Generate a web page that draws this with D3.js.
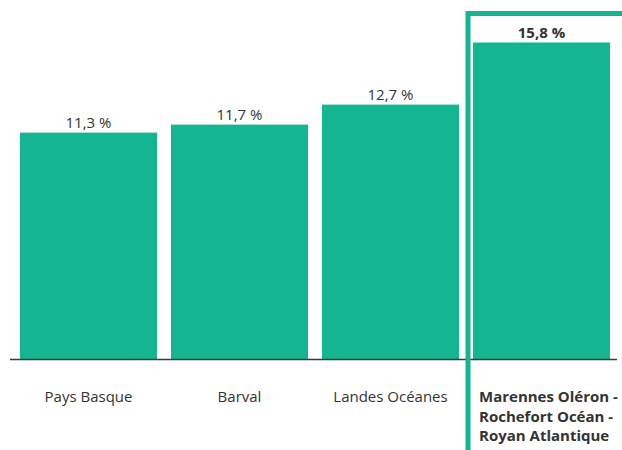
<!DOCTYPE html>
<html>
<head>
<meta charset="utf-8">
<script src="https://cdn.jsdelivr.net/npm/d3@7"></script>
<style>
  html, body { margin: 0; padding: 0; background: #fff; }
  svg { display: block; font-family: "Open Sans", sans-serif; }
</style>
</head>
<body>
<div id="chart"></div>
<script>
const categories = ["Pays Basque", "Barval", "Landes Océanes", "Marennes Oléron - Rochefort Océan - Royan Atlantique"];
const labelLines = [["Pays Basque"], ["Barval"], ["Landes Océanes"], ["Marennes Oléron -", "Rochefort Océan -", "Royan Atlantique"]];
const values = [11.3, 11.7, 12.7, 15.8];
const highlight = categories[3];

const width = 622, height = 450;
const baseline = 359;
const green = "#13b690";
const textColor = "#333";
const fmt = v => d3.format(".1f")(v).replace(".", ",") + " %";

const svg = d3.select("#chart").append("svg")
  .attr("width", width)
  .attr("height", height);

const x = d3.scaleBand()
  .domain(categories)
  .range([20, 610])
  .paddingInner(14 / 151)
  .paddingOuter(0);

const y = d3.scaleLinear()
  .domain([0, 15.8])
  .range([baseline, 42.5]);

// bars
svg.selectAll("rect.bar")
  .data(categories)
  .enter()
  .append("rect")
  .attr("class", "bar")
  .attr("x", d => x(d))
  .attr("y", (d, i) => y(values[i]))
  .attr("width", x.bandwidth())
  .attr("height", (d, i) => y(0) - y(values[i]))
  .attr("fill", green);

// baseline
svg.append("line")
  .attr("x1", 10).attr("x2", 617)
  .attr("y1", baseline + 0.5).attr("y2", baseline + 0.5)
  .attr("stroke", "#3a3a3a")
  .attr("stroke-width", 1.5);

// value labels
svg.selectAll("text.value")
  .data(categories)
  .enter()
  .append("text")
  .attr("class", "value")
  .attr("x", d => x(d) + x.bandwidth() / 2)
  .attr("y", (d, i) => y(values[i]) - 5)
  .attr("text-anchor", "middle")
  .attr("font-size", 15)
  .attr("font-weight", d => d === highlight ? 700 : 400)
  .attr("fill", textColor)
  .text((d, i) => fmt(values[i]));

// category labels
const cat = svg.selectAll("text.cat")
  .data(categories)
  .enter()
  .append("text")
  .attr("class", "cat")
  .attr("font-size", 15)
  .attr("fill", textColor)
  .attr("font-weight", d => d === highlight ? 700 : 400)
  .attr("text-anchor", d => d === highlight ? "start" : "middle")
  .attr("x", d => d === highlight ? x(d) + 6 : x(d) + x.bandwidth() / 2)
  .attr("y", 402);

cat.selectAll("tspan")
  .data((d, i) => labelLines[i].map(t => ({ t, hl: d === highlight })))
  .enter()
  .append("tspan")
  .attr("x", function () { return d3.select(this.parentNode).attr("x"); })
  .attr("dy", (d, j) => j === 0 ? 0 : 19.5)
  .text(d => d.t);

// highlight frame
const fx = x(highlight) - 5;
svg.append("path")
  .attr("d", `M${fx},${height} L${fx},13.5 L${width},13.5`)
  .attr("fill", "none")
  .attr("stroke", green)
  .attr("stroke-width", 5);
</script>
</body>
</html>
